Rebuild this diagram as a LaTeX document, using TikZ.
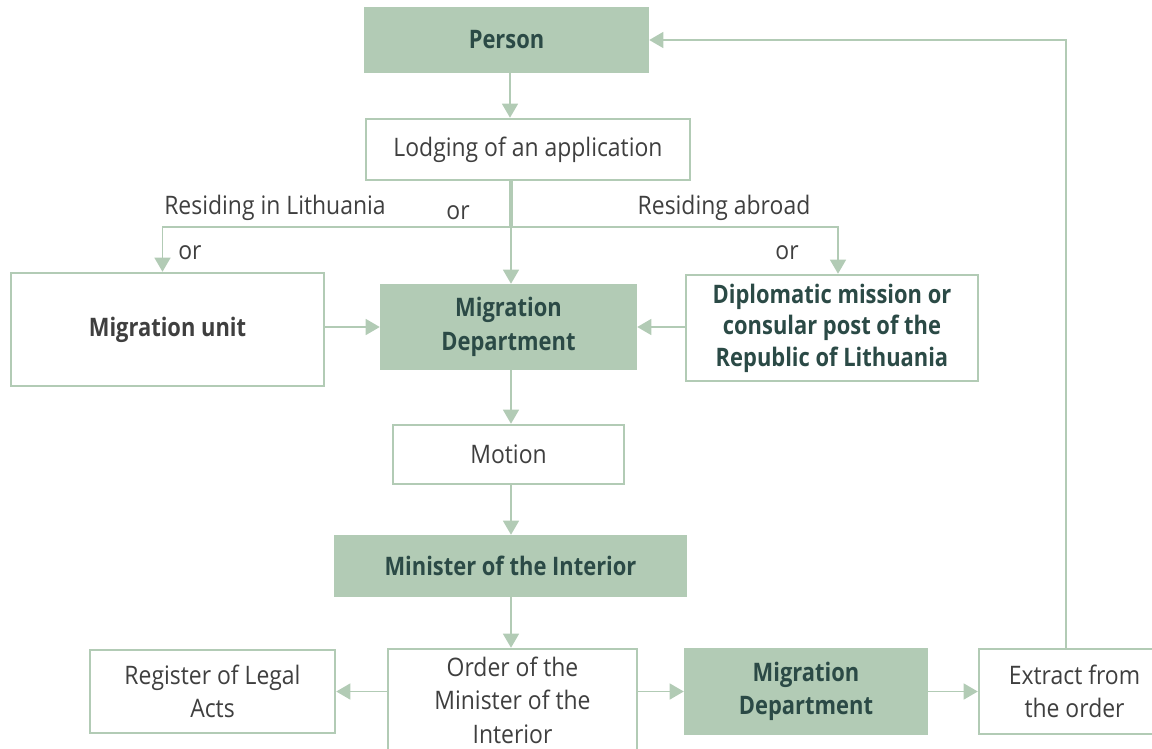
\documentclass[tikz,border=0pt]{standalone}
\usepackage{fontspec}
\setmainfont{Open Sans}[FakeStretch=0.9, BoldFeatures={FakeStretch=0.86}]
\usepackage{xcolor}
\definecolor{sage}{HTML}{B2CBB5}
\definecolor{sagetext}{HTML}{2B4A46}
\definecolor{greytext}{HTML}{3F3F3F}
\usepackage{tikz}
\usetikzlibrary{positioning,arrows.meta,calc}

\begin{document}
\begin{tikzpicture}[
      x=0.02cm, y=-0.02cm,
      every node/.style={font=\fontsize{14.5}{18.5}\selectfont},
      wbox/.style={rectangle, draw=sage, line width=1.4pt, fill=white, text=greytext,
                   align=center, inner sep=1mm},
      gbox/.style={rectangle, draw=sage, line width=1.4pt, fill=sage, text=sagetext,
                   align=center, inner sep=1mm, font=\fontsize{14.5}{19}\selectfont\bfseries},
      lab/.style={text=greytext, inner sep=0pt},
      arr/.style={-{Triangle[width=9pt,length=8pt]}, draw=sage, line width=1.1pt},
    ]
    \useasboundingbox (0,0) rectangle (1152,748);
    \node[gbox, minimum width=5.66cm, minimum height=1.28cm] (person) at (506.5,40) {Person};
    \node[wbox, minimum width=6.48cm, minimum height=1.22cm] (lodging) at (528,149.5) {Lodging of an application};
    \node[wbox, minimum width=6.26cm, minimum height=2.26cm, font=\fontsize{14.5}{18.5}\selectfont\bfseries] (unit) at (167.5,329.5) {Migration unit};
    \node[gbox, minimum width=5.1cm, minimum height=1.68cm] (mdept) at (508.5,327) {Migration\\ Department};
    \node[wbox, minimum width=5.84cm, minimum height=2.12cm, text=sagetext, font=\fontsize{14.5}{18}\selectfont\bfseries] (dipl) at (832,328) {Diplomatic mission or\\ consular post of the\\ Republic of Lithuania};
    \node[wbox, minimum width=4.62cm, minimum height=1.18cm] (motion) at (508.5,454.5) {Motion};
    \node[gbox, minimum width=7.02cm, minimum height=1.2cm] (minister) at (510.5,566) {Minister of the Interior};
    \node[wbox, minimum width=4.9cm, minimum height=1.66cm] (register) at (212.5,691.5) {Register of Legal\\ Acts};
    \node[wbox, minimum width=4.98cm, minimum height=2.04cm, font=\fontsize{14.5}{19}\selectfont] (order) at (512.5,700) {Order of the\\ Minister of the\\ Interior};
    \node[gbox, minimum width=4.84cm, minimum height=1.7cm] (mdept2) at (806,691.5) {Migration\\ Department};
    \node[wbox, minimum width=3.82cm, minimum height=1.7cm] (extract) at (1074.5,691.5) {Extract from\\ the order};

    \node[lab] (lith) at (275,208) {Residing in Lithuania};
    \node[lab] (or1) at (458,213) {or};
    \node[lab] (abroad) at (724,208) {Residing abroad};
    \node[lab] (or2) at (190,253) {or};
    \node[lab] (or3) at (787,253) {or};

    % branching under the application
    \coordinate (j) at (511,227);
    \draw[arr] (person.south -| 510,0) -- (lodging.north -| 510,0);
    \draw[draw=sage, line width=2pt] (lodging.south -| j) -- (j);
    \draw[arr] (j) -| ([xshift=-0.1cm]unit.north);
    \draw[arr] (j) -| ([xshift=0.12cm]dipl.north);
    \draw[arr] (j) -- (j |- mdept.north);

    \draw[arr] (unit.east |- mdept) -- (mdept.west);
    \draw[arr] (dipl.west |- mdept) -- (mdept.east);
    \draw[arr] (mdept.south -| j) -- (motion.north -| j);
    \draw[arr] (motion.south -| j) -- (minister.north -| j);
    \draw[arr] (minister.south -| j) -- (order.north -| j);

    \draw[arr] (order.west |- register) -- (register.east);
    \draw[arr] (order.east |- mdept2) -- (mdept2.west);
    \draw[arr] (mdept2.east) -- (extract.west);
    \draw[arr] ([xshift=-0.17cm]extract.north) |- (person.east);
  \end{tikzpicture}
\end{document}
